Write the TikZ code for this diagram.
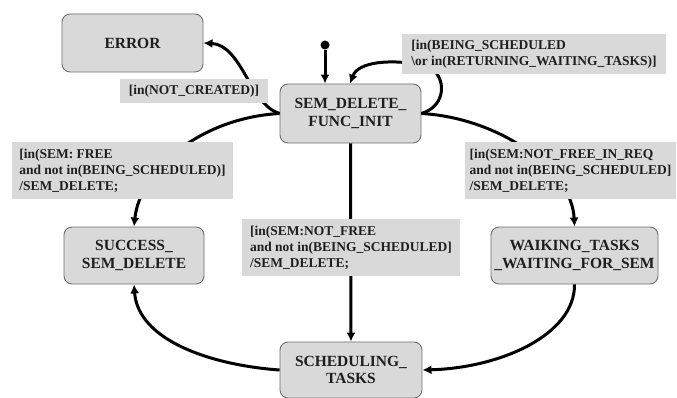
\documentclass[tikz,border=0pt]{standalone}
\usepackage{fontspec}
\setmainfont{Liberation Serif}
\usetikzlibrary{arrows.meta}
\definecolor{boxfill}{HTML}{D9D9D9}
\definecolor{boxline}{HTML}{6E6E6E}
\definecolor{txt}{HTML}{1E1E1E}
\begin{document}
\begin{tikzpicture}[x=1pt,y=-1pt,
  state/.style={draw=boxline, line width=0.9pt, fill=boxfill, rounded corners=8pt,
    inner sep=0pt, align=center, text=txt,
    font=\fontsize{15.5}{17.5}\selectfont\bfseries},
  guard/.style={fill=boxfill, inner sep=0pt, align=left, text=txt,
    font=\fontsize{13.5}{16}\selectfont\bfseries},
  trans/.style={line width=3pt, -{Latex[length=9pt,width=9pt]}},
  plain/.style={line width=3pt}]
\useasboundingbox[fill=white] (0,0) rectangle (677,398);

% states
\node[state, minimum width=141pt, minimum height=58pt] (error) at (132.5,43) {ERROR};
\node[state, minimum width=141pt, minimum height=59pt] (init) at (350.5,113.5) {SEM\_DELETE\_\\FUNC\_INIT};
\node[state, minimum width=140pt, minimum height=57pt] (succ) at (134,255.5) {SUCCESS\_\\SEM\_DELETE};
\node[state, minimum width=167pt, minimum height=57pt] (waik) at (574.5,255.5) {WAIKING\_TASKS\\\_WAITING\_FOR\_SEM};
\node[state, minimum width=142pt, minimum height=56pt] (sched) at (351,370) {SCHEDULING\_\\TASKS};

% initial pseudo state
\node[circle, fill=black, inner sep=0pt, minimum size=9pt] (start) at (325,45) {};
\draw[trans] (start) -- (start |- init.north);

% transitions
\draw[trans] (init.west) .. controls (250,105) and (242,45) .. (error.east);
\draw[trans] (init.west) .. controls (200,118) and (140,170) .. (succ.north);
\draw[trans] (init.east) .. controls (500,118) and (572,170) .. (waik.north);
\draw[trans] (init.south) -- (sched.north);
\draw[trans] (sched.west) .. controls (210,365) and (138,340) .. (succ.south);
\draw[trans] (waik.south) .. controls (575,335) and (500,368) .. (sched.east);
\coordinate (loopmid) at (428,66);
\draw[plain] (init.east) .. controls (447,106) and (447,76) .. (loopmid);
\draw[trans] (loopmid) .. controls (390,58) and (358,62) .. ([xshift=-0.5pt]init.north);

% guards
\node[guard, minimum width=148pt, minimum height=24pt] (lnc) at (194,91) {[in(NOT\_CREATED)]};
\node[guard, minimum width=264pt, minimum height=40pt] (lloop) at (534,54) {[in(BEING\_SCHEDULED\\\textbackslash or in(RETURNING\_WAITING\_TASKS)]};
\node[guard, minimum width=221pt, minimum height=57pt] (lleft) at (122.5,170.5) {[in(SEM: FREE\\and not in(BEING\_SCHEDULED)]\\/SEM\_DELETE;};
\node[guard, minimum width=218pt, minimum height=57pt] (lmid) at (351,247.5) {[in(SEM:NOT\_FREE\\and not in(BEING\_SCHEDULED]\\/SEM\_DELETE;};
\node[guard, minimum width=211pt, minimum height=57pt] (lright) at (570.5,170.5) {[in(SEM:NOT\_FREE\_IN\_REQ\\and not in(BEING\_SCHEDULED]\\/SEM\_DELETE;};
\end{tikzpicture}
\end{document}
